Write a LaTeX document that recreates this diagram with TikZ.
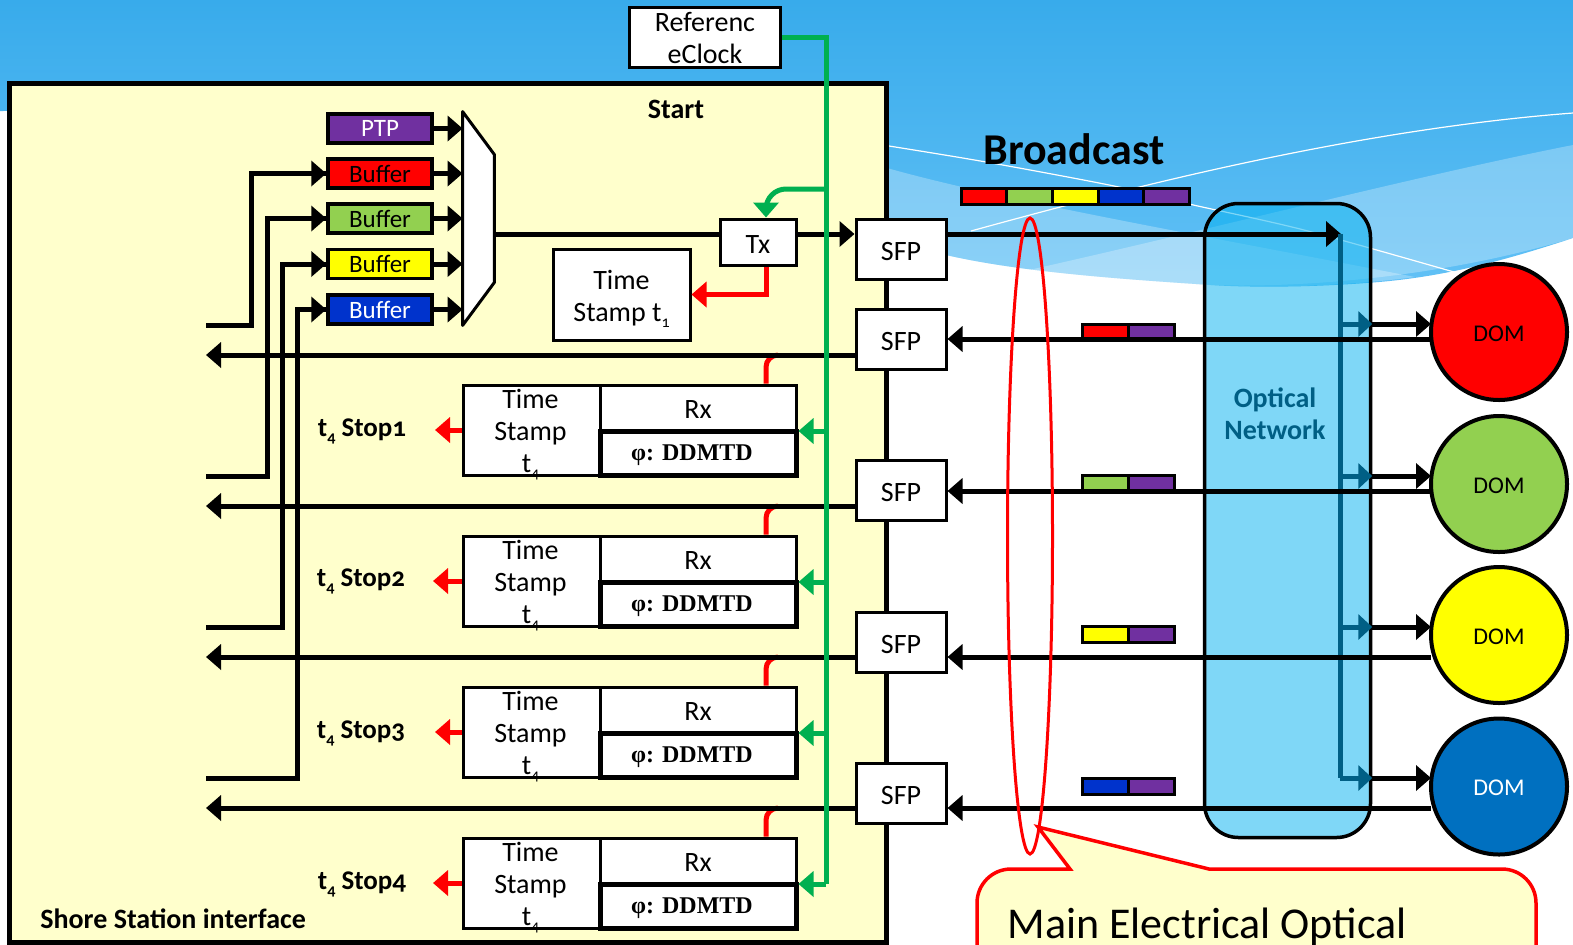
\documentclass[tikz,border=0pt]{standalone}
\usepackage{fontspec}
\setmainfont{Carlito}[Numbers=OldStyle]
\newfontfamily\ddmtdfont{Liberation Serif}
\usetikzlibrary{arrows.meta,shapes.geometric}
\definecolor{skytop}{HTML}{38ABEB}
\definecolor{skylow}{HTML}{62C1F6}
\definecolor{paleyellow}{HTML}{FFFFCC}
\definecolor{bufred}{HTML}{FF0000}
\definecolor{bufgreen}{HTML}{92D050}
\definecolor{bufyellow}{HTML}{FFFF00}
\definecolor{bufblue}{HTML}{0033CC}
\definecolor{ptppurple}{HTML}{7030A0}
\definecolor{domblue}{HTML}{0070C0}
\definecolor{netfill}{HTML}{00B0F0}
\definecolor{nettext}{HTML}{005F85}
\definecolor{clockgreen}{HTML}{00B050}
\newcommand{\tsub}[1]{\raisebox{-.45ex}{\footnotesize #1}}

\begin{document}
\begin{tikzpicture}[
x=0.5pt,
y=-0.5pt,
font=\fontsize{14}{16}\selectfont,
whitebox/.style={draw, fill=white, line width=1.5pt, align=center, inner sep=0pt},
sfpbox/.style={whitebox, minimum width=45pt, minimum height=30pt, text height=11pt, text depth=0pt},
bufbox/.style={draw, line width=1.75pt, inner sep=0pt, minimum width=52pt, minimum height=14.5pt, font=\fontsize{12.5}{16}\selectfont},
stampbox/.style={whitebox, minimum width=68.5pt, minimum height=45pt},
stamptext/.style={align=center, inner sep=0pt},
rxbox/.style={whitebox, minimum width=98pt, minimum height=23pt, text height=10.5pt, text depth=0pt},
phibox/.style={whitebox, line width=2.5pt, outer xsep=1.25pt, outer ysep=0pt, minimum width=98pt, minimum height=22pt, font=\ddmtdfont\bfseries\fontsize{12}{14}\selectfont},
cell/.style={draw, line width=1.5pt, inner sep=0pt, minimum width=23pt, minimum height=8pt},
dom/.style={circle, draw, line width=2pt, outer sep=0pt, inner sep=0pt, minimum size=68pt, font=\fontsize{12}{14}\selectfont},
boldtext/.style={inner sep=0pt, font=\bfseries\fontsize{13.5}{16}\selectfont},
blackarrow/.style={draw, line width=2.5pt, -{Triangle[length=7.5pt,width=12.5pt]}},
plainline/.style={draw, line width=2.5pt, line join=miter},
redarrow/.style={draw=bufred, line width=2.5pt, -{Triangle[length=7.5pt,width=12.5pt]}},
greenarrow/.style={draw=clockgreen, line width=2.5pt, -{Triangle[length=7.5pt,width=12.5pt]}},
bluearrow/.style={draw=nettext, line width=2.5pt, -{Triangle[length=7pt,width=12.5pt]}}
]

\clip (0,0) rectangle (1573,944);

\fill[white] (0,0) rectangle (1573,944);
\shade[top color=skytop, bottom color=skylow] (0,0) -- (1573,0) -- (1573,238) .. controls (1500,262) and (1440,278) .. (1366,283) .. controls (1300,288) and (1240,287) .. (1211,285) .. controls (1120,279) and (1020,272) .. (946,255) .. controls (640,190) and (300,110) .. (0,111) -- cycle;
\fill[white, opacity=0.27] (887,168) .. controls (1000,200) and (1200,235) .. (1415,277) .. controls (1340,287) and (1260,288) .. (1211,285) .. controls (1120,279) and (1020,272) .. (946,255) -- (887,240) -- cycle;
\fill[white, opacity=0.27] (1573,145) .. controls (1420,175) and (1200,232) .. (1020,272) .. controls (1100,279) and (1160,283) .. (1211,285) .. controls (1300,288) and (1440,278) .. (1573,238) -- cycle;
\draw[white, line width=0.6pt] plot[smooth] coordinates {(889,146) (986,162) (1114,186) (1189,204) (1304,230) (1454,272)};
\draw[white, line width=0.6pt] (971,231) .. controls (1120,190) and (1350,130) .. (1573,113);

\node[draw, fill=paleyellow, line width=2.5pt, inner sep=0pt, minimum width=438.5pt, minimum height=429.5pt] (station) at (448.25,512.5) {};
\node[boldtext, font=\bfseries\fontsize{14}{16}\selectfont] (startlabel) at (676,109) {Start};
\node[boldtext, font=\bfseries\fontsize{14}{16}\selectfont, anchor=west] (shorelabel) at (40,919) {Shore Station interface};

\node[bufbox, fill=ptppurple, text=white] (ptp) at (380,128.5) {PTP};
\node[bufbox, fill=bufred] (bufa) at (380,173.5) {Buffer};
\node[bufbox, fill=bufgreen] (bufb) at (380,218.5) {Buffer};
\node[bufbox, fill=bufyellow] (bufc) at (380,264) {Buffer};
\node[bufbox, fill=bufblue, text=white] (bufd) at (380,309.5) {Buffer};

\node[inner sep=0pt, minimum width=15.5pt, minimum height=106.5pt] (mux) at (478.5,218.5) {};
\draw[fill=white, line width=1.5pt, line join=round] (mux.north west) -- ([yshift=-21.5pt]mux.north east) -- ([yshift=21.5pt]mux.south east) -- (mux.south west) -- cycle;

\node[whitebox, minimum width=75.5pt, minimum height=30pt] (clock) at (705,37.5) {Referenc\\eClock};
\node[whitebox, minimum width=38pt, minimum height=23pt, text height=11pt, text depth=0pt] (tx) at (758,242) {Tx};
\node[whitebox, minimum width=68.5pt, minimum height=45.5pt] (stampt) at (621.5,294.5) {};
\node[stamptext] (stamptextt) at (621.5,299) {Time\\Stamp t\tsub{1}};

\node[sfpbox] (sfpt) at (901,249) {SFP};
\node[sfpbox] (sfpa) at (901,339.5) {SFP};
\node[sfpbox] (sfpb) at (901,490.5) {SFP};
\node[sfpbox] (sfpc) at (901,642) {SFP};
\node[sfpbox] (sfpd) at (901,793) {SFP};

\node[stampbox] (stampa) at (531.5,430) {};
\node[stampbox] (stampb) at (531.5,581) {};
\node[stampbox] (stampc) at (531.5,732) {};
\node[stampbox] (stampd) at (531.5,883) {};
\node[stamptext] (stamptexta) at (530.5,435) {Time\\Stamp\\t\tsub{4}};
\node[stamptext] (stamptextb) at (530.5,586) {Time\\Stamp\\t\tsub{4}};
\node[stamptext] (stamptextc) at (530.5,737) {Time\\Stamp\\t\tsub{4}};
\node[stamptext] (stamptextd) at (530.5,888) {Time\\Stamp\\t\tsub{4}};

\node[rxbox] (rxa) at (698,408) {Rx};
\node[rxbox] (rxb) at (698,559) {Rx};
\node[rxbox] (rxc) at (698,710) {Rx};
\node[rxbox] (rxd) at (698,861) {Rx};
\node[phibox] (phia) at (698,453) {\smash{\raisebox{-3.9pt}{φ: DDMTD}}\hspace{6pt}};
\node[phibox] (phib) at (698,604) {\smash{\raisebox{-3.9pt}{φ: DDMTD}}\hspace{6pt}};
\node[phibox] (phic) at (698,755) {\smash{\raisebox{-3.9pt}{φ: DDMTD}}\hspace{6pt}};
\node[phibox] (phid) at (698,906) {\smash{\raisebox{-3.9pt}{φ: DDMTD}}\hspace{6pt}};

\node[boldtext] (stopa) at (362,431) {t\tsub{4} Stop1};
\node[boldtext] (stopb) at (361,581) {t\tsub{4} Stop2};
\node[boldtext] (stopc) at (361,733) {t\tsub{4} Stop3};
\node[boldtext] (stopd) at (362,884) {t\tsub{4} Stop4};

\coordinate (ina) at (206,325);
\coordinate (inb) at (206,476);
\coordinate (inc) at (206,627);
\coordinate (ind) at (206,778);

\draw[plainline] (ina) -- (251,325) |- (bufa.west);
\draw[blackarrow] (251,173.5) -- (bufa.west);
\draw[plainline] (inb) -- (267,476) |- (bufb.west);
\draw[blackarrow] (267,218.5) -- (bufb.west);
\draw[plainline] (inc) -- (282,627) |- (bufc.west);
\draw[blackarrow] (282,264) -- (bufc.west);
\draw[plainline] (ind) -- (297,778) |- (bufd.west);
\draw[blackarrow] (297,309.5) -- (bufd.west);

\draw[blackarrow] (ptp.east) -- (ptp.east -| mux.west);
\draw[blackarrow] (bufa.east) -- (bufa.east -| mux.west);
\draw[blackarrow] (bufb.east) -- (bufb.east -| mux.west);
\draw[blackarrow] (bufc.east) -- (bufc.east -| mux.west);
\draw[blackarrow] (bufd.east) -- (bufd.east -| mux.west);

\draw[plainline] (mux.east |- 0,234) -- (tx.west |- 0,234);
\draw[blackarrow] (tx.east |- 0,234) -- (sfpt.west |- 0,234);

\draw[redarrow] ([xshift=4pt]tx.south) |- (stampt.east);
\draw[draw=bufred, line width=2.5pt, rounded corners=6pt] ([xshift=34pt]rxa.north) |- (778,355);
\draw[draw=bufred, line width=2.5pt, rounded corners=6pt] ([xshift=34pt]rxb.north) |- (778,506);
\draw[draw=bufred, line width=2.5pt, rounded corners=6pt] ([xshift=34pt]rxc.north) |- (778,657);
\draw[draw=bufred, line width=2.5pt, rounded corners=6pt] ([xshift=34pt]rxd.north) |- (778,808);
\draw[redarrow] (stampa.west) -- (stampa.west -| 435,0);
\draw[redarrow] (stampb.west) -- (stampb.west -| 433,0);
\draw[redarrow] (stampc.west) -- (stampc.west -| 435,0);
\draw[redarrow] (stampd.west) -- (stampd.west -| 433,0);

\draw[blackarrow] (sfpa.west |- 0,355) -- (ina |- 0,355);
\draw[blackarrow] (sfpb.west |- 0,506) -- (inb |- 0,506);
\draw[blackarrow] (sfpc.west |- 0,657) -- (inc |- 0,657);
\draw[blackarrow] (sfpd.west |- 0,808) -- (ind |- 0,808);

\coordinate (trunkend) at (826,884);
\draw[draw=clockgreen, line width=2.5pt] (clock.east) -| (trunkend);
\draw[greenarrow] (trunkend) -- (phid.north east);
\draw[greenarrow] (phia.north east -| trunkend) -- (phia.north east);
\draw[greenarrow] (phib.north east -| trunkend) -- (phib.north east);
\draw[greenarrow] (phic.north east -| trunkend) -- (phic.north east);
\draw[greenarrow, rounded corners=10pt] (826,189) -| ([xshift=4pt]tx.north);

\node[draw, fill=netfill, fill opacity=0.5, line width=1.75pt, rounded corners=17pt, inner sep=0pt, minimum width=83pt, minimum height=317pt] (network) at (1287.5,520.5) {};
\node[boldtext, font=\bfseries\fontsize{14}{16}\selectfont, text=nettext, align=center] (networklabel) at (1275,414) {Optical\\Network};

\node[dom, fill=bufred, text height=9pt, text depth=0pt] (doma) at (1499,332) {DOM};
\node[dom, fill=bufgreen, text height=9pt, text depth=0pt] (domb) at (1499,484) {DOM};
\node[dom, fill=bufyellow, text height=9pt, text depth=0pt] (domc) at (1499,635) {DOM};
\node[dom, fill=domblue, text=white, text height=9pt, text depth=0pt] (domd) at (1499,786.5) {DOM};

\draw[blackarrow] (sfpt.east |- 0,234) -- (network.west |- 0,234) -- (1341,234);
\draw[draw=nettext, line width=2.5pt] (1340,234) -- (1340,778);
\draw[bluearrow] (1340,324) -- (network.east |- 0,324);
\draw[bluearrow] (1340,476) -- (network.east |- 0,476);
\draw[bluearrow] (1340,627) -- (network.east |- 0,627);
\draw[bluearrow] (1340,778) -- (network.east |- 0,778);
\draw[blackarrow] (network.east |- 0,324) -- (doma.west |- 0,324);
\draw[blackarrow] (network.east |- 0,476) -- (domb.west |- 0,476);
\draw[blackarrow] (network.east |- 0,627) -- (domc.west |- 0,627);
\draw[blackarrow] (network.east |- 0,778) -- (domd.west |- 0,778);

\node[cell, fill=bufred] (sredo) at (1105,332) {};
\node[cell, fill=ptppurple] (spuro) at (1151,332) {};
\node[cell, fill=bufgreen] (sgreen) at (1105,483) {};
\node[cell, fill=ptppurple] (spurt) at (1151,483) {};
\node[cell, fill=bufyellow] (syellow) at (1105,634) {};
\node[cell, fill=ptppurple] (spurh) at (1151,634) {};
\node[cell, fill=bufblue] (sblue) at (1105,786) {};
\node[cell, fill=ptppurple] (spurf) at (1151,786) {};

\draw[blackarrow] (doma.west |- 0,339) -- (sfpa.east |- 0,339);
\draw[blackarrow] (domb.west |- 0,491) -- (sfpb.east |- 0,491);
\draw[blackarrow] (domc.west |- 0,657) -- (sfpc.east |- 0,657);
\draw[blackarrow] (domd.west |- 0,808) -- (sfpd.east |- 0,808);

\node[boldtext, font=\bfseries\fontsize{22}{24}\selectfont] (broadcast) at (1074,149) {Broadcast};
\node[cell, fill=bufred] (bca) at (984,196.5) {};
\node[cell, fill=bufgreen] (bcb) at (1029.7,196.5) {};
\node[cell, fill=bufyellow] (bcc) at (1075.4,196.5) {};
\node[cell, fill=bufblue] (bcd) at (1121.1,196.5) {};
\node[cell, fill=ptppurple] (bce) at (1166.8,196.5) {};

\node[ellipse, draw=bufred, line width=1.5pt, inner sep=0pt, minimum width=22.5pt, minimum height=318pt] (oval) at (1030,536) {};

\draw[draw=bufred, fill=paleyellow, line width=1.75pt] (1038,827) -- (1070,869) [rounded corners=17pt] -- (977,869) -- (977,1000) -- (1536,1000) -- (1536,869) -- (1300,869) [sharp corners] -- (1209,869) -- cycle;
\node[inner sep=0pt, anchor=west, font=\fontsize{22}{24}\selectfont] (calloutlabel) at (1007,927) {Main Electrical Optical};

\end{tikzpicture}
\end{document}
